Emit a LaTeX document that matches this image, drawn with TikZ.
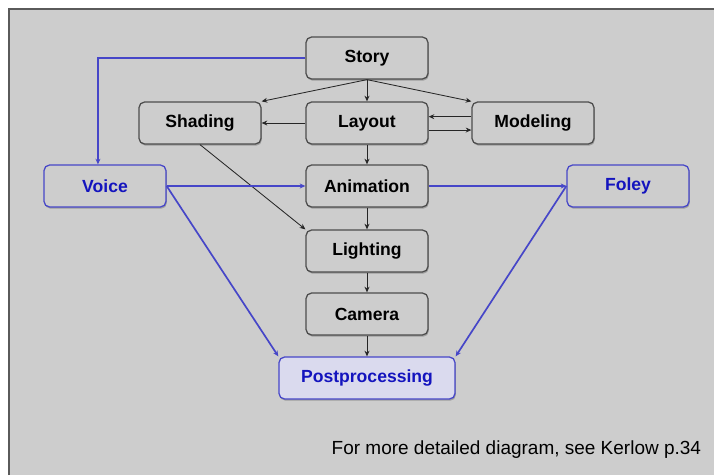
\documentclass[tikz,border=0pt]{standalone}
\usepackage{fontspec}
\setmainfont{Liberation Sans}
\usetikzlibrary{arrows.meta,shadows}

\definecolor{panel}{RGB}{205,205,205}
\definecolor{postfill}{RGB}{218,218,238}
\definecolor{frameline}{RGB}{90,90,90}
\definecolor{soundblue}{RGB}{70,70,200}
\definecolor{soundtext}{RGB}{20,20,190}

\tikzset{
	stage/.style={draw=black!70, line width=0.9pt, rounded corners=4pt, fill=panel,
		minimum width=3.05cm, minimum height=1.05cm, font=\fontsize{12.5}{14}\bfseries\selectfont,
		drop shadow={shadow xshift=0.6pt, shadow yshift=-1.2pt, opacity=0.6}},
	sound/.style={stage, draw=soundblue, text=soundtext},
	flow/.style={-{Stealth[length=4pt,width=3.5pt]}, black!85, line width=0.6pt},
	soundflow/.style={flow, draw=soundblue, line width=1.2pt}
}

\begin{document}
\begin{tikzpicture}[x=0.025cm,y=-0.025cm]
			%%%%% START %%%%%
			\def\xl{200}
			\def\xm{367}
			\def\xr{533}
			\def\xv{105}
			\def\xf{628}
			
			\useasboundingbox (0,0) rectangle (714,475);
			\fill[white] (0,0) rectangle (714,475);
			\fill[panel] (9,9) rectangle (714,475);
			\draw[frameline, line width=2pt] (9,475) -- (9,9) -- (714,9);
			
			\node[stage] (story) at (\xm,58) {Story};
			\node[stage] (shading) at (\xl,123) {Shading};
			\node[stage] (layout) at (\xm,123) {Layout};
			\node[stage] (modeling) at (\xr,123) {Modeling};
			\node[sound] (voice) at (\xv,186) {Voice};
			\node[stage] (animation) at (\xm,186) {Animation};
			\node[sound] (foley) at (\xf,186) {Foley};
			\node[stage] (lighting) at (\xm,251) {Lighting};
			\node[stage] (camera) at (\xm,314) {Camera};
			\node[sound, fill=postfill, minimum width=4.4cm] (post) at (\xm,378) {Postprocessing};
			
			\draw[flow] (story.south) -- (shading.north east);
			\draw[flow] (story.south) -- (layout.north);
			\draw[flow] (story.south) -- (modeling.north west);
			\draw[flow] (layout.west) -- (shading.east);
			\draw[flow] ([yshift=4.5pt]modeling.west) -- ([yshift=4.5pt]layout.east);
			\draw[flow] ([yshift=-5pt]layout.east) -- ([yshift=-5pt]modeling.west);
			\draw[flow] (layout.south) -- (animation.north);
			\draw[flow] (shading.south) -- (lighting.north west);
			\draw[flow] (animation.south) -- (lighting.north);
			\draw[flow] (lighting.south) -- (camera.north);
			\draw[flow] (camera.south) -- (post.north);
			
			\draw[soundflow] (story.west) -| ([xshift=-5]voice.north);
			\draw[soundflow] (voice.east) -- (animation.west);
			\draw[soundflow] (animation.east) -- (foley.west);
			\draw[soundflow] (voice.east) -- (post.north west);
			\draw[soundflow] (foley.west) -- (post.north east);
			
			\node[anchor=east, font=\fontsize{13.5}{15}\selectfont] (note) at (706,450) {For more detailed diagram, see Kerlow p.34};
			%%%%% END %%%%%
\end{tikzpicture}
\end{document}
